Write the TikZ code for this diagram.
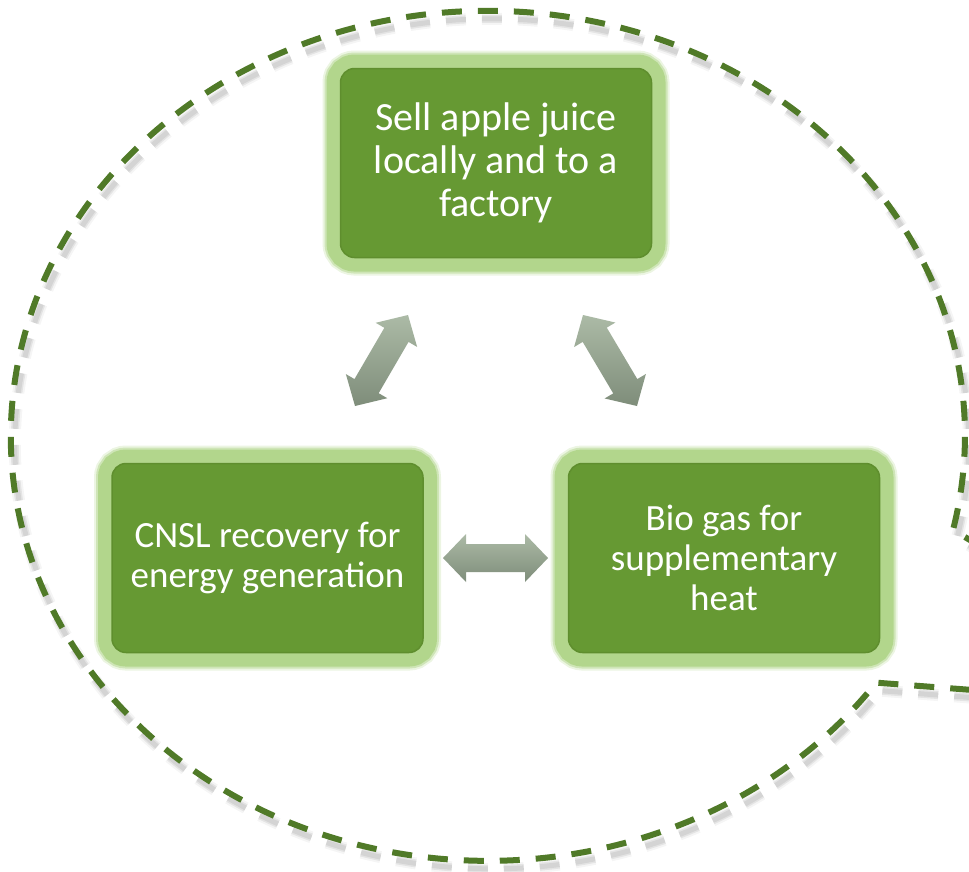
\documentclass[tikz,border=0pt]{standalone}
\usepackage{fontspec}
\setmainfont{Carlito}
\usetikzlibrary{calc}
\definecolor{boxgreen}{RGB}{102,153,51}
\definecolor{boxedge}{RGB}{95,142,46}
\definecolor{glowc}{RGB}{178,214,140}
\definecolor{dashc}{RGB}{80,122,40}
\definecolor{arrTop}{RGB}{172,186,166}
\definecolor{arrBot}{RGB}{126,141,122}
\newcommand\dblarrow[2]{%
  \shade[top color=arrTop, bottom color=arrBot]
    (#1) -- ($(#1)!23pt!(#2)!24pt!90:(#2)$) -- ($(#1)!23pt!(#2)!14pt!90:(#2)$)
    -- ($(#2)!23pt!(#1)!14pt!-90:(#1)$) -- ($(#2)!23pt!(#1)!24pt!-90:(#1)$)
    -- (#2) -- ($(#2)!23pt!(#1)!24pt!90:(#1)$) -- ($(#2)!23pt!(#1)!14pt!90:(#1)$)
    -- ($(#1)!23pt!(#2)!14pt!-90:(#2)$) -- ($(#1)!23pt!(#2)!24pt!-90:(#2)$) -- cycle;}
\newcommand\bubblepath{(1261,712) -- (953,530)
    arc[start angle=12.8, end angle=-324.5, x radius=477, y radius=425] -- cycle}
\begin{document}
\begin{tikzpicture}[x=1pt,y=-1pt,
  gbox/.style={rounded corners=14pt, fill=boxgreen, draw=boxedge, line width=1.5pt,
    minimum width=311pt, minimum height=189pt, text=white, align=center,
    font=\fontsize{37}{40}\selectfont, inner sep=0pt,
    preaction={draw=glowc, line width=36pt, opacity=0.25},
    preaction={draw=glowc, line width=32pt, opacity=0.5},
    preaction={draw=glowc, line width=28pt}},
  bubble/.style={draw=dashc, line width=6pt, dash pattern=on 20pt off 16pt},
  bubbleshadow/.style={draw=black, dash pattern=on 20pt off 16pt}]
\useasboundingbox (0,0) rectangle (969,871);
\begin{scope}
  \clip (0,0) rectangle (969,871);
  \draw[bubbleshadow, line width=12pt, opacity=0.04, shift={(4,8)}] \bubblepath;
  \draw[bubbleshadow, line width=8pt, opacity=0.07, shift={(4,8)}] \bubblepath;
  \draw[bubbleshadow, line width=5pt, opacity=0.07, shift={(4,8)}] \bubblepath;
  \draw[bubble] \bubblepath;
\end{scope}
\node[gbox, font=\fontsize{40}{43}\selectfont] (juice) at (496,163) {Sell apple juice\\locally and to a\\factory};
\node[gbox] (cnsl) at (267.5,558) {CNSL recovery for\\energy generation};
\node[gbox] (biogas) at (724,558) {Bio gas for\\supplementary\\heat};
\coordinate (l1) at (355,406); \coordinate (l2) at (408,315);
\coordinate (r1) at (583,315); \coordinate (r2) at (637,406);
\coordinate (h1) at (443,558); \coordinate (h2) at (548,558);
\dblarrow{l1}{l2}
\dblarrow{r1}{r2}
\dblarrow{h1}{h2}
\end{tikzpicture}
\end{document}
